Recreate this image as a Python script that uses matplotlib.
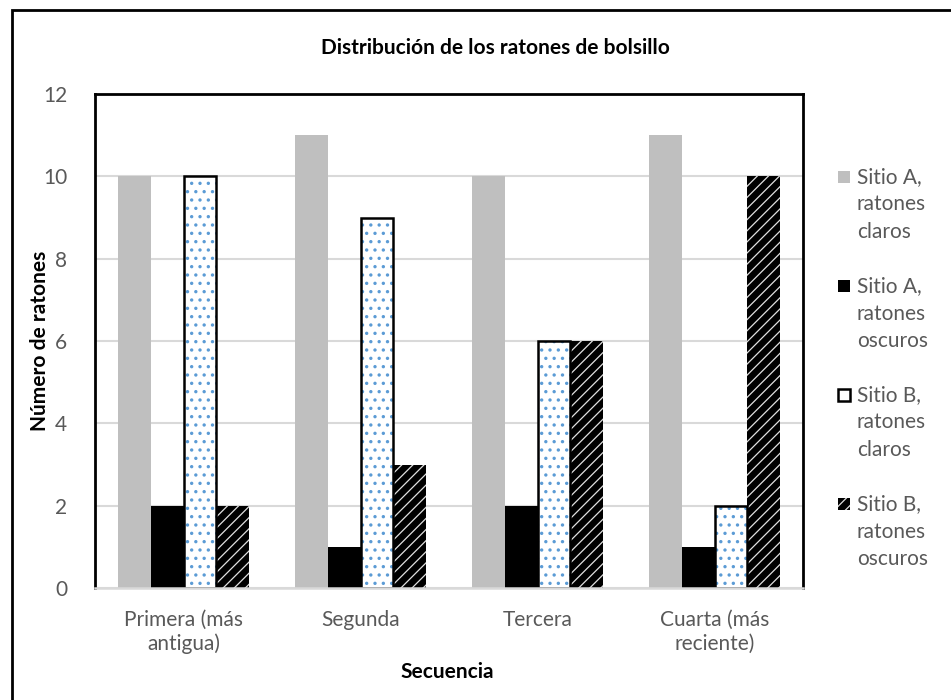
import numpy as np
import matplotlib
matplotlib.use('Agg')
import matplotlib.pyplot as plt
from matplotlib.patches import Rectangle

# datos del gráfico
categorias = ['Primera (más\nantigua)', 'Segunda', 'Tercera', 'Cuarta (más\nreciente)']
sitio_a_claros = [10, 11, 10, 11]
sitio_a_oscuros = [2, 1, 2, 1]
sitio_b_claros = [10, 9, 6, 2]
sitio_b_oscuros = [2, 3, 6, 10]
series_nombres = ['Sitio A,\nratones\nclaros', 'Sitio A,\nratones\noscuros',
                  'Sitio B,\nratones\nclaros', 'Sitio B,\nratones\noscuros']

plt.rcParams['font.family'] = ['Lato', 'DejaVu Sans']
gris_texto = '#595959'
azul = '#5b9bd5'

W, H = 951, 700
fig = plt.figure(figsize=(W / 100, H / 100), dpi=100)
ax = fig.add_axes([95 / W, 1 - 588 / H, (803 - 95) / W, (588 - 94) / H])

x = np.arange(len(categorias))
w = 0.186

ax.bar(x - 1.5 * w, sitio_a_claros, w, color='#bfbfbf', zorder=3)
ax.bar(x - 0.5 * w, sitio_a_oscuros, w, color='black', zorder=3)

# Sitio B claros: fondo blanco con puntos azules y borde negro
plt.rcParams['hatch.linewidth'] = 1.2
ax.bar(x + 0.5 * w, sitio_b_claros, w, color='white', edgecolor=azul,
       hatch='..', linewidth=0, zorder=3)
ax.bar(x + 0.5 * w, sitio_b_claros, w, fill=False, edgecolor='black',
       linewidth=1.8, zorder=4)

# Sitio B oscuros: negro con diagonales blancas finas
plt.rcParams['hatch.linewidth'] = 0.9
ax.bar(x + 1.5 * w, sitio_b_oscuros, w, color='black', edgecolor='#e0e0e0',
       hatch='///', linewidth=0, zorder=3)

ax.set_xlim(-0.5, 3.5)
ax.set_ylim(0, 12)
ax.set_yticks(range(0, 13, 2))
ax.set_xticks(x)
ax.set_xticklabels(categorias)
ax.tick_params(axis='both', length=0, labelsize=15, colors=gris_texto)
ax.tick_params(axis='y', pad=20)
ax.tick_params(axis='x', pad=16)
ax.grid(axis='y', color='#d9d9d9', linewidth=1.5, zorder=0)

for lado in ['left', 'top', 'right']:
    ax.spines[lado].set_color('black')
    ax.spines[lado].set_linewidth(2)
ax.spines['bottom'].set_color('#d9d9d9')
ax.spines['bottom'].set_linewidth(1.8)
ax.spines['bottom'].set_zorder(5)

fig.text(495 / W, 1 - 48 / H, 'Distribución de los ratones de bolsillo',
         ha='center', va='center', fontsize=15, fontweight='bold')
fig.text(40 / W, 1 - 341 / H, 'Número de ratones', rotation=90,
         ha='center', va='center', fontsize=15, fontweight='bold')
fig.text(447 / W, 1 - 672 / H, 'Secuencia', ha='center', va='center',
         fontsize=15, fontweight='bold')

# leyenda a la derecha
plt.rcParams['hatch.linewidth'] = 0.9
estilos = [dict(facecolor='#bfbfbf', edgecolor='none'),
           dict(facecolor='black', edgecolor='none'),
           dict(facecolor='white', edgecolor='black', linewidth=1.8),
           dict(facecolor='black', edgecolor='#e0e0e0', hatch='///', linewidth=0)]
for i, (nombre, est) in enumerate(zip(series_nombres, estilos)):
    y0 = 177 + 109 * i
    fig.add_artist(Rectangle((838 / W, 1 - (y0 + 6) / H), 12 / W, 12 / H,
                             transform=fig.transFigure, **est))
    for j, linea in enumerate(nombre.split('\n')):
        fig.text(857 / W, 1 - (y0 + 27.5 * j) / H, linea, ha='left',
                 va='center', fontsize=15, color=gris_texto)

# borde del área del gráfico
fig.add_artist(Rectangle((12 / W, -0.1), 1.2, 1.1 - 10 / H,
                         transform=fig.transFigure, fill=False,
                         edgecolor='black', linewidth=2))

fig.savefig('out.png', dpi=100)
